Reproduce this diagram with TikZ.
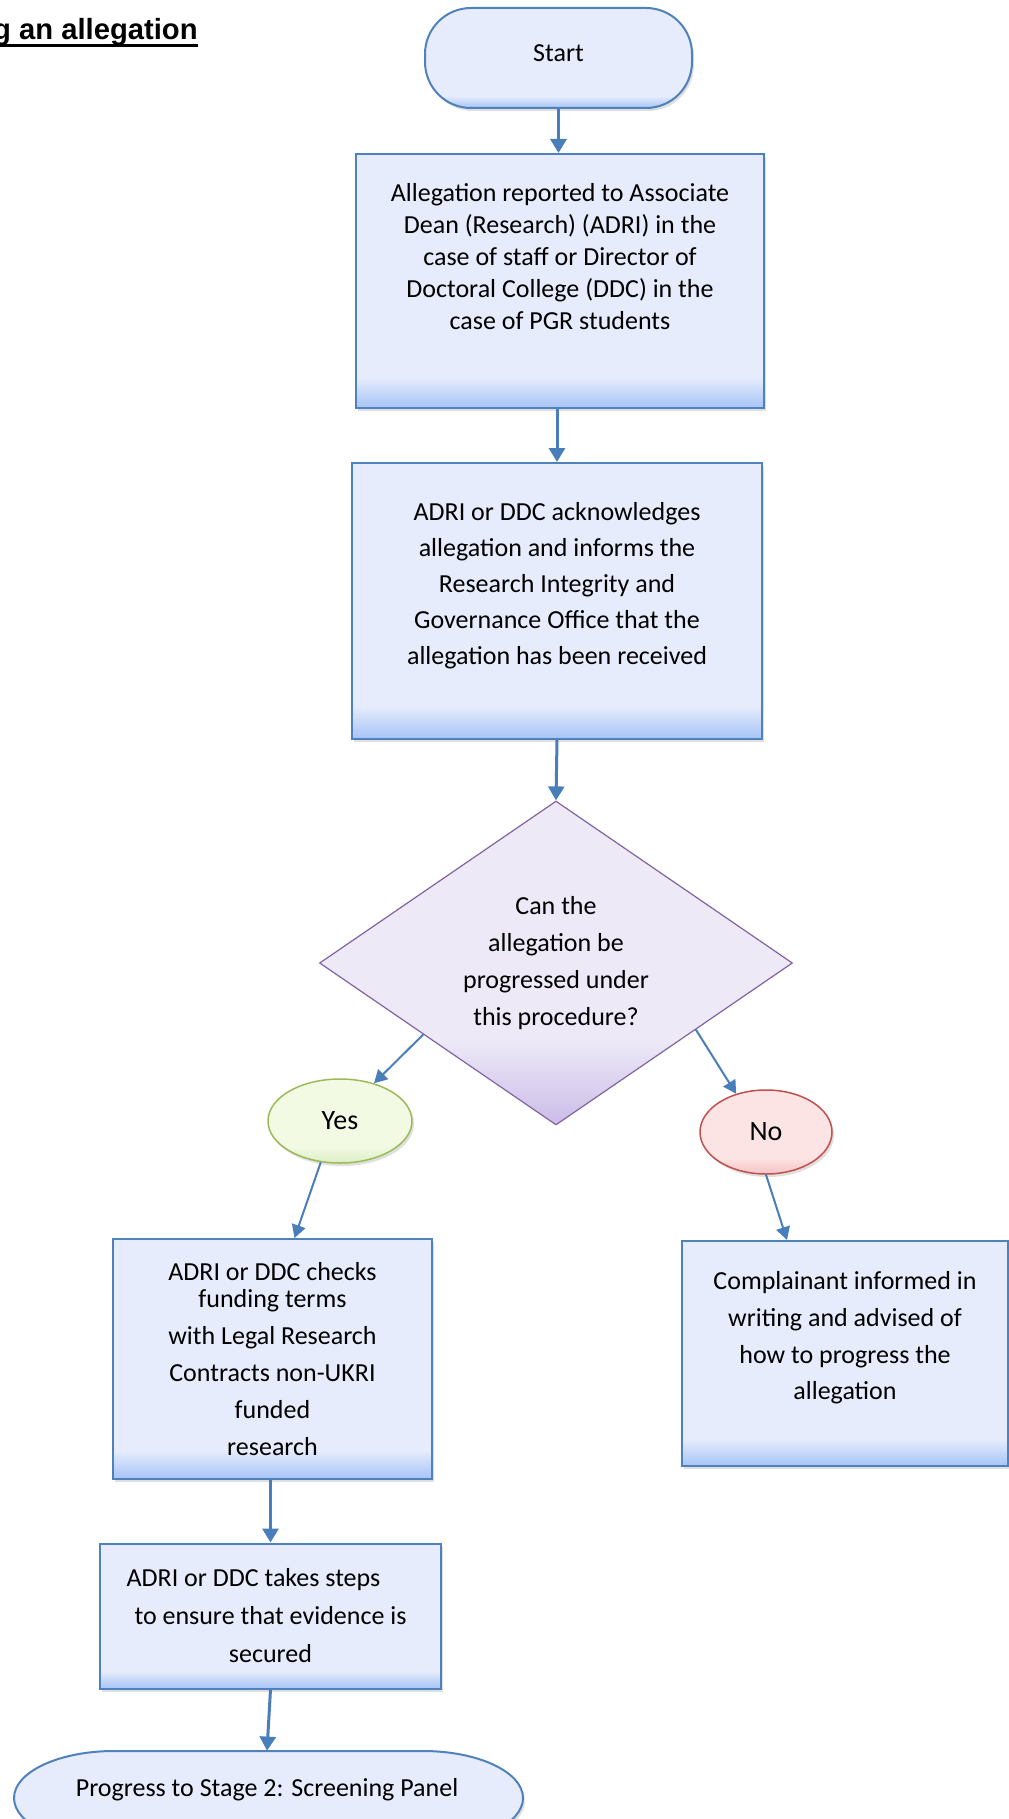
\documentclass[tikz,border=0pt]{standalone}
\usepackage{fontspec}
\setmainfont{Carlito}
\newfontfamily\titlefont{Liberation Sans}
\usetikzlibrary{arrows.meta,shapes.geometric,shadows,calc}

\definecolor{boxfill}{RGB}{230,236,252}
\definecolor{boxbot}{RGB}{166,196,246}
\definecolor{boxline}{RGB}{79,129,189}
\definecolor{decfill}{RGB}{237,233,247}
\definecolor{decbot}{RGB}{203,188,232}
\definecolor{decline}{RGB}{128,100,162}
\definecolor{yesfill}{RGB}{242,250,228}
\definecolor{yesbot}{RGB}{221,238,196}
\definecolor{yesline}{RGB}{155,187,89}
\definecolor{nofill}{RGB}{253,228,228}
\definecolor{nobot}{RGB}{245,196,196}
\definecolor{noline}{RGB}{192,80,77}
\definecolor{arrowblue}{RGB}{74,126,187}

\pgfdeclareverticalshading{boxshade}{100bp}{color(0bp)=(boxbot); color(25bp)=(boxbot); color(31bp)=(boxfill); color(100bp)=(boxfill)}
\pgfdeclareverticalshading{decshade}{100bp}{color(0bp)=(decbot); color(25bp)=(decbot); color(38bp)=(decfill); color(100bp)=(decfill)}
\pgfdeclareverticalshading{yesshade}{100bp}{color(0bp)=(yesbot); color(25bp)=(yesbot); color(35bp)=(yesfill); color(100bp)=(yesfill)}
\pgfdeclareverticalshading{noshade}{100bp}{color(0bp)=(nobot); color(25bp)=(nobot); color(35bp)=(nofill); color(100bp)=(nofill)}

\begin{document}
\begin{tikzpicture}[x=0.5pt, y=-0.5pt,
    every node/.style={font=\fontsize{13}{18.3}\selectfont, align=center},
    softshadow/.style={drop shadow={opacity=0.25, shadow xshift=1pt, shadow yshift=-1.5pt}},
    procbox/.style={rectangle, draw=boxline, line width=1pt, shade, shading=boxshade, softshadow, inner sep=0pt},
    answer/.style={ellipse, line width=0.75pt, softshadow, minimum height=42pt, font=\fontsize{14}{17}\selectfont},
    link/.style={draw=arrowblue, line width=1.5pt, -{Triangle[width=8pt,length=7pt]}},
    thinlink/.style={draw=arrowblue, line width=1pt, -{Triangle[width=7pt,length=6.5pt]}}]
    \useasboundingbox (0,0) rectangle (1008,1819);

    % Title (cut at the page edge)
    \node[font=\titlefont\bfseries\fontsize{14.6}{17}\selectfont, anchor=base east, inner sep=0pt] (title) at (198,40) {g an allegation};
    \draw[line width=1.5pt] ([yshift=-2.75pt]title.base west) -- ([yshift=-2.75pt]title.base east);

    % Start
    \node[procbox, rounded corners=23pt, minimum width=133.5pt, minimum height=50pt, text depth=5pt] (start) at (558.5,58) {Start};

    % Allegation reported
    \node[procbox, minimum width=204pt, minimum height=127pt] (report) at (560,281) {};
    \node[font=\fontsize{13}{16}\selectfont] (reporttxt) at (560,257) {Allegation reported to Associate\\Dean (Research) (ADRI) in the\\case of staff or Director of\\Doctoral College (DDC) in the\\case of PGR students};

    % Acknowledgement
    \node[procbox, minimum width=205pt, minimum height=138pt] (ack) at (557,601) {};
    \node[font=\fontsize{13}{18}\selectfont] (acktxt) at (557,585.5) {ADRI or DDC acknowledges\\allegation and informs the\\Research Integrity and\\Governance Office that the\\allegation has been received};

    % Decision
    \node[diamond, draw=decline, line width=0.6pt, shade, shading=decshade, aspect=1.46, inner sep=0pt,
          minimum width=236.5pt, minimum height=162pt, font=\fontsize{13}{18.5}\selectfont] (dec) at (556,963)
          {Can the\\allegation be\\progressed under\\this procedure?};

    % Answers
    \node[answer, draw=yesline, shade, shading=yesshade, minimum width=72pt] (yes) at (340,1121) {Yes};
    \node[answer, draw=noline, shade, shading=noshade, minimum width=66pt] (no) at (766,1132) {No};

    % Yes branch
    \node[procbox, minimum width=159.5pt, minimum height=120pt, font=\fontsize{13}{18.5}\selectfont] (checks) at (272.5,1359)
          {ADRI or DDC checks\\[-5pt]funding terms\\with Legal Research\\Contracts non-UKRI\\funded\\research};
    \node[procbox, minimum width=170.5pt, minimum height=72.5pt, font=\fontsize{13}{19}\selectfont] (secure) at (270.5,1616)
          {ADRI or DDC takes steps\hspace*{17pt}\\to ensure that evidence is\\secured};

    % Progress to stage 2
    \draw[draw=boxline, line width=1pt, shade, shading=boxshade, softshadow] (114,1751) -- (423,1751)
          arc[start angle=90, end angle=-90, x radius=50pt, y radius=23.5pt] -- (114,1845)
          arc[start angle=270, end angle=90, x radius=50pt, y radius=23.5pt] -- cycle;
    \node[inner sep=0pt, minimum width=254.5pt, minimum height=39pt] (finish) at (267,1790) {Progress to Stage 2: Screening Panel};

    % No branch
    \node[procbox, minimum width=163pt, minimum height=112.5pt] (comp) at (845,1353.5) {};
    \node (comptxt) at (845,1338) {Complainant informed in\\writing and advised of\\how to progress the\\allegation};

    % Connectors
    \draw[link] (start.south) -- (start.south |- report.north);
    \draw[link] (ack.north |- report.south) -- (ack.north);
    \draw[link] (ack.south) -- (dec.north);
    \draw[thinlink] ($(dec.west)!0.44!(dec.south)$) -- (yes.48);
    \draw[thinlink] ($(dec.east)!0.41!(dec.south)$) -- (no.128);
    \draw[thinlink] (yes.245) -- ([xshift=11pt]checks.north);
    \draw[thinlink] (no.south) -- ([xshift=-29pt]comp.north);
    \draw[link] (secure.north |- checks.south) -- (secure.north);
    \draw[link] (secure.south) -- (finish.north);
\end{tikzpicture}
\end{document}
